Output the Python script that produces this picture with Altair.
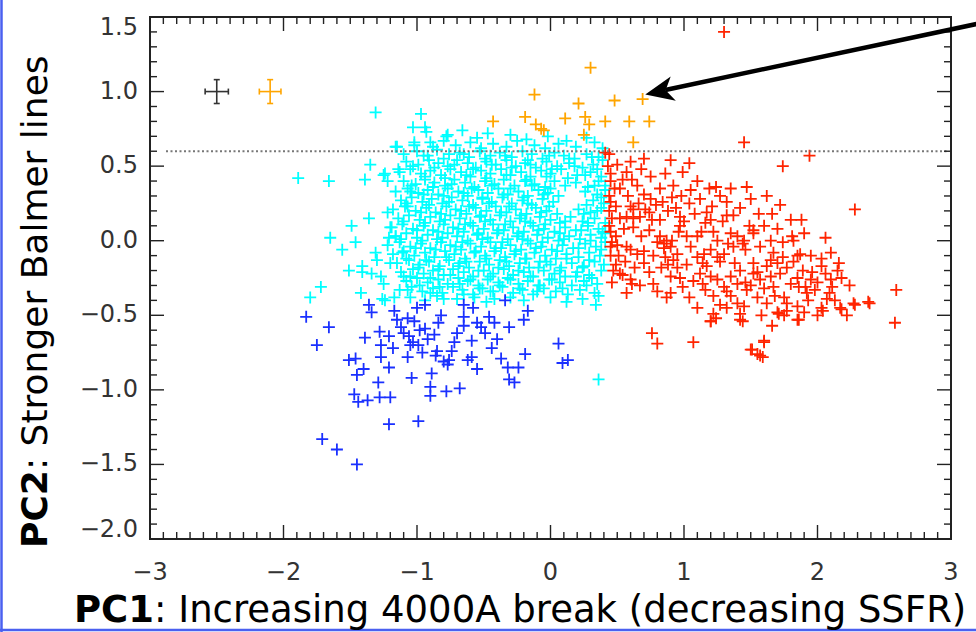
import altair as alt
import pandas as pd

# ---------------- data ----------------
cyan_outer = [
    (-1.89, 0.42), (-1.66, 0.40), (-1.31, 0.86), (-1.16, 0.63), (-1.35, 0.51), (-1.39, 0.41),
    (-1.25, 0.44), (-1.22, 0.40), (-1.22, 0.19), (-1.36, 0.15), (-1.49, 0.10), (-1.65, 0.02),
    (-1.46, -0.01), (-1.56, -0.06), (-1.51, -0.20), (-1.41, -0.17), (-1.31, -0.08), (-1.30, -0.13),
    (-1.72, -0.31), (-1.80, -0.38), (-1.42, -0.35), (-1.34, -0.22), (-1.27, -0.24), (-0.97, 0.85),
    (-1.03, 0.76), (-0.94, 0.76), (-0.90, 0.66), (-1.02, 0.64), (-1.15, 0.63), (-0.77, 0.71),
    (-1.14, 0.48), (-1.24, 0.45), (-1.21, 0.02), (-1.41, -0.21), (-1.25, -0.29), (-1.24, -0.40),
    (-1.17, -0.38), (-1.19, 0.09), (-1.16, 0.03), (-1.20, -0.15), (-1.11, -0.08), (-1.10, -0.24),
    (-1.07, -0.33), (-1.05, 0.33), (-1.07, 0.23), (0.34, -0.43), (0.36, -0.93), (-1.26, -0.39),
    (-0.90, -0.35), (-0.80, -0.39), (-0.65, -0.36), (-0.45, -0.34), (-0.42, -0.39), (-0.10, -0.34),
]
cyan_core_top = [
    (-0.93, 0.73), (-0.78, 0.70), (-0.66, 0.74), (-0.55, 0.69), (-0.47, 0.72), (-0.30, 0.71), (-0.18, 0.68),
    (-0.02, 0.70), (0.12, 0.67), (0.27, 0.69),
    (-1.02, 0.66), (-0.88, 0.63), (-0.80, 0.67), (-0.71, 0.64), (-0.60, 0.66), (-0.52, 0.62), (-0.43, 0.65),
    (-0.33, 0.63), (-0.25, 0.67), (-0.12, 0.64), (-0.04, 0.62), (0.06, 0.65), (0.19, 0.63), (0.33, 0.66), (0.39, 0.62),
    (-1.10, 0.58), (-1.00, 0.60), (-0.92, 0.57), (-0.85, 0.61), (-0.76, 0.58), (-0.68, 0.59), (-0.61, 0.56),
    (-0.53, 0.60), (-0.45, 0.57), (-0.38, 0.59), (-0.29, 0.56), (-0.21, 0.60), (-0.14, 0.58), (-0.06, 0.55),
    (0.03, 0.59), (0.10, 0.57), (0.18, 0.55), (0.27, 0.58), (0.36, 0.56),
    (-1.08, 0.53), (-0.99, 0.51), (-0.91, 0.54), (-0.84, 0.52), (-0.77, 0.50), (-0.70, 0.54), (-0.62, 0.52),
    (-0.56, 0.49), (-0.48, 0.53), (-0.41, 0.51), (-0.33, 0.54), (-0.26, 0.50), (-0.19, 0.52), (-0.11, 0.49),
    (-0.03, 0.53), (0.05, 0.50), (0.14, 0.52), (0.24, 0.49), (0.32, 0.51), (0.39, 0.54),
    (-1.13, 0.46), (-1.05, 0.48), (-0.97, 0.45), (-0.90, 0.47), (-0.82, 0.44), (-0.75, 0.48), (-0.67, 0.46),
    (-0.60, 0.43), (-0.52, 0.47), (-0.45, 0.45), (-0.37, 0.48), (-0.30, 0.44), (-0.22, 0.46), (-0.15, 0.43),
    (-0.07, 0.47), (0.00, 0.45), (0.08, 0.48), (0.20, 0.44), (0.30, 0.46), (0.38, 0.43),
    (-1.10, 0.40), (-1.01, 0.38), (-0.94, 0.41), (-0.87, 0.39), (-0.79, 0.37), (-0.72, 0.41), (-0.64, 0.39),
    (-0.57, 0.36), (-0.49, 0.40), (-0.42, 0.38), (-0.35, 0.41), (-0.27, 0.37), (-0.19, 0.40), (-0.12, 0.38),
    (-0.04, 0.36), (0.03, 0.40), (0.11, 0.37), (0.19, 0.39), (0.28, 0.36), (0.36, 0.40), (0.41, 0.37),
    (-1.16, 0.33), (-1.07, 0.35), (-0.99, 0.32), (-0.92, 0.34), (-0.84, 0.31), (-0.77, 0.35), (-0.69, 0.33),
    (-0.62, 0.30), (-0.54, 0.34), (-0.47, 0.32), (-0.39, 0.35), (-0.32, 0.31), (-0.24, 0.33), (-0.17, 0.30),
    (-0.09, 0.34), (-0.02, 0.32), (0.06, 0.30), (0.26, 0.33), (0.35, 0.31), (0.41, 0.34),
    (-1.12, 0.27), (-1.04, 0.29), (-0.96, 0.26), (-0.89, 0.28), (-0.81, 0.25), (-0.74, 0.29), (-0.66, 0.27),
    (-0.58, 0.24), (-0.51, 0.28), (-0.44, 0.26), (-0.36, 0.29), (-0.29, 0.25), (-0.21, 0.27), (-0.14, 0.24),
    (-0.06, 0.28), (0.02, 0.26), (0.32, 0.27), (0.40, 0.25),
    (-1.18, 0.21), (-1.09, 0.23), (-1.01, 0.20), (-0.93, 0.22), (-0.86, 0.19), (-0.78, 0.23), (-0.71, 0.21),
    (-0.63, 0.18), (-0.56, 0.22), (-0.48, 0.20), (-0.41, 0.23), (-0.33, 0.19), (-0.26, 0.21), (-0.18, 0.18),
    (-0.11, 0.22), (-0.03, 0.20), (0.05, 0.18), (0.21, 0.21), (0.30, 0.19), (0.38, 0.22),
]
cyan_core_bottom = [
    (-1.14, 0.15), (-1.06, 0.17), (-0.98, 0.14), (-0.90, 0.16), (-0.83, 0.13), (-0.75, 0.17), (-0.68, 0.15),
    (-0.60, 0.12), (-0.53, 0.16), (-0.45, 0.14), (-0.38, 0.17), (-0.30, 0.13), (-0.23, 0.15), (-0.15, 0.12),
    (-0.08, 0.16), (0.00, 0.14), (0.07, 0.12), (0.15, 0.16), (0.24, 0.13), (0.33, 0.15), (0.41, 0.12),
    (-1.20, 0.09), (-1.11, 0.11), (-1.03, 0.08), (-0.95, 0.10), (-0.88, 0.07), (-0.80, 0.11), (-0.73, 0.09),
    (-0.65, 0.06), (-0.58, 0.10), (-0.50, 0.08), (-0.43, 0.11), (-0.35, 0.07), (-0.28, 0.09), (-0.20, 0.06),
    (-0.13, 0.10), (-0.05, 0.08), (0.03, 0.06), (0.11, 0.09), (0.19, 0.07), (0.28, 0.10), (0.36, 0.08), (0.41, 0.05),
    (-1.16, 0.03), (-1.08, 0.05), (-1.00, 0.02), (-0.92, 0.04), (-0.85, 0.01), (-0.77, 0.05), (-0.70, 0.03),
    (-0.62, 0.00), (-0.55, 0.04), (-0.47, 0.02), (-0.40, 0.05), (-0.32, 0.01), (-0.25, 0.03), (-0.17, 0.00),
    (-0.10, 0.04), (-0.02, 0.02), (0.06, 0.00), (0.14, 0.03), (0.22, 0.01), (0.30, 0.04), (0.38, 0.02),
    (-1.22, -0.03), (-1.13, -0.01), (-1.05, -0.04), (-0.97, -0.02), (-0.90, -0.05), (-0.82, -0.01), (-0.75, -0.03),
    (-0.67, -0.06), (-0.60, -0.02), (-0.52, -0.04), (-0.45, -0.01), (-0.37, -0.05), (-0.30, -0.03), (-0.22, -0.06),
    (-0.15, -0.02), (-0.07, -0.04), (0.01, -0.06), (0.09, -0.03), (0.17, -0.05), (0.26, -0.02), (0.34, -0.04), (0.41, -0.01),
    (-1.18, -0.09), (-1.10, -0.07), (-1.02, -0.10), (-0.94, -0.08), (-0.87, -0.11), (-0.79, -0.07), (-0.72, -0.09),
    (-0.64, -0.12), (-0.57, -0.08), (-0.49, -0.10), (-0.42, -0.07), (-0.34, -0.11), (-0.27, -0.09), (-0.19, -0.12),
    (-0.12, -0.08), (-0.04, -0.10), (0.04, -0.12), (0.12, -0.09), (0.21, -0.11), (0.29, -0.08), (0.37, -0.10),
    (-1.15, -0.15), (-1.06, -0.13), (-0.98, -0.16), (-0.91, -0.14), (-0.83, -0.17), (-0.76, -0.13), (-0.68, -0.15),
    (-0.61, -0.18), (-0.53, -0.14), (-0.46, -0.16), (-0.38, -0.13), (-0.31, -0.17), (-0.23, -0.15), (-0.16, -0.18),
    (-0.08, -0.14), (0.00, -0.16), (0.08, -0.18), (0.16, -0.15), (0.25, -0.17), (0.33, -0.14), (0.40, -0.16),
    (-1.12, -0.21), (-1.03, -0.19), (-0.95, -0.22), (-0.88, -0.20), (-0.80, -0.23), (-0.73, -0.19), (-0.65, -0.21),
    (-0.58, -0.24), (-0.50, -0.20), (-0.43, -0.22), (-0.35, -0.19), (-0.28, -0.23), (-0.20, -0.21), (-0.13, -0.24),
    (-0.05, -0.20), (0.03, -0.22), (0.11, -0.24), (0.20, -0.21), (0.29, -0.23), (0.38, -0.20),
    (-1.08, -0.27), (-1.00, -0.25), (-0.92, -0.28), (-0.84, -0.26), (-0.77, -0.29), (-0.69, -0.25), (-0.62, -0.27),
    (-0.54, -0.30), (-0.47, -0.26), (-0.39, -0.28), (-0.32, -0.25), (-0.24, -0.29), (-0.17, -0.27), (-0.09, -0.30),
    (-0.01, -0.26), (0.07, -0.28), (0.16, -0.30), (0.25, -0.27), (0.35, -0.29),
    (-1.13, -0.33), (-1.04, -0.31), (-0.96, -0.34), (-0.88, -0.32), (-0.81, -0.35), (-0.73, -0.31), (-0.66, -0.33),
    (-0.58, -0.36), (-0.51, -0.32), (-0.43, -0.34), (-0.36, -0.31), (-0.28, -0.35), (-0.21, -0.33), (-0.13, -0.36),
    (-0.05, -0.32), (0.04, -0.34), (0.13, -0.36), (0.22, -0.33), (0.33, -0.35),
    (-1.05, -0.38), (-0.94, -0.40), (-0.85, -0.37), (-0.70, -0.39), (-0.57, -0.38), (-0.48, -0.41),
    (-0.30, -0.38), (-0.20, -0.40), (0.00, -0.38), (0.12, -0.41), (0.24, -0.39), (0.36, -0.37),
]
cyan_core_fill = [
    (-0.95, 0.57), (-0.80, 0.55), (-0.65, 0.58), (-0.49, 0.55), (-0.34, 0.57), (-0.17, 0.54), (-0.01, 0.57),
    (0.14, 0.55), (0.31, 0.56),
    (-1.03, 0.50), (-0.87, 0.49), (-0.72, 0.51), (-0.58, 0.48), (-0.44, 0.51), (-0.29, 0.49), (-0.15, 0.51),
    (0.01, 0.48), (0.18, 0.50), (0.35, 0.48),
    (-0.94, 0.43), (-0.79, 0.42), (-0.63, 0.44), (-0.48, 0.42), (-0.33, 0.44), (-0.18, 0.41), (-0.03, 0.43),
    (0.13, 0.42), (0.26, 0.44),
    (-1.04, 0.37), (-0.88, 0.36), (-0.74, 0.38), (-0.59, 0.35), (-0.44, 0.37), (-0.30, 0.35), (-0.14, 0.37),
    (0.00, 0.35), (0.33, 0.37),
    (-0.95, 0.31), (-0.80, 0.30), (-0.65, 0.32), (-0.51, 0.29), (-0.35, 0.31), (-0.20, 0.29), (-0.05, 0.31),
    (0.38, 0.29),
    (-1.08, 0.25), (-0.91, 0.24), (-0.76, 0.26), (-0.61, 0.23), (-0.46, 0.25), (-0.31, 0.23), (-0.17, 0.25),
    (-0.01, 0.23), (0.27, 0.24),
    (-0.97, 0.19), (-0.82, 0.18), (-0.67, 0.20), (-0.52, 0.17), (-0.37, 0.19), (-0.22, 0.17), (-0.07, 0.19),
    (0.25, 0.18), (0.35, 0.20),
    (-1.10, 0.13), (-0.94, 0.12), (-0.79, 0.14), (-0.64, 0.11), (-0.49, 0.13), (-0.34, 0.11), (-0.19, 0.13),
    (-0.04, 0.11), (0.11, 0.13), (0.28, 0.12),
    (-1.00, 0.07), (-0.84, 0.06), (-0.69, 0.08), (-0.54, 0.05), (-0.39, 0.07), (-0.24, 0.05), (-0.09, 0.07),
    (0.07, 0.05), (0.23, 0.07), (0.39, 0.06),
    (-1.12, 0.01), (-0.96, 0.00), (-0.81, 0.02), (-0.66, -0.01), (-0.51, 0.01), (-0.36, -0.01), (-0.21, 0.01),
    (-0.06, -0.01), (0.10, 0.01), (0.30, 0.00),
    (-1.01, -0.05), (-0.86, -0.06), (-0.71, -0.04), (-0.56, -0.07), (-0.41, -0.05), (-0.26, -0.07), (-0.11, -0.05),
    (0.05, -0.07), (0.21, -0.05), (0.38, -0.06),
    (-1.08, -0.12), (-0.93, -0.13), (-0.78, -0.11), (-0.63, -0.14), (-0.48, -0.12), (-0.33, -0.14), (-0.18, -0.12),
    (-0.03, -0.14), (0.12, -0.12), (0.29, -0.13),
    (-0.99, -0.18), (-0.84, -0.19), (-0.69, -0.17), (-0.54, -0.20), (-0.39, -0.18), (-0.24, -0.20), (-0.09, -0.18),
    (0.07, -0.20), (0.24, -0.18),
    (-1.05, -0.24), (-0.90, -0.25), (-0.75, -0.23), (-0.60, -0.26), (-0.45, -0.24), (-0.30, -0.26), (-0.15, -0.24),
    (0.01, -0.26), (0.19, -0.24), (0.31, -0.25),
    (-0.98, -0.30), (-0.83, -0.31), (-0.68, -0.29), (-0.53, -0.32), (-0.38, -0.30), (-0.23, -0.32), (-0.08, -0.30),
    (0.09, -0.32), (0.27, -0.30),
]
blue_pts = [
    (-1.83, -0.51), (-1.66, -0.58), (-1.75, -0.70), (-1.36, -0.43), (-1.34, -0.48), (-1.39, -0.65),
    (-1.28, -0.61), (-1.27, -0.70), (-1.21, -0.64), (-1.51, -0.80), (-1.46, -0.79), (-1.40, -0.86),
    (-1.45, -0.90), (-1.27, -0.78), (-1.21, -0.85), (-1.29, -0.95), (-1.47, -1.03), (-1.44, -1.08),
    (-1.37, -1.07), (-1.28, -1.05), (-1.20, -1.05), (-1.21, -1.23), (-0.99, -1.21), (-1.71, -1.33),
    (-1.60, -1.40), (-1.45, -1.50), (-1.17, -0.47), (-1.15, -0.53), (-1.12, -0.58), (-1.07, -0.52),
    (-1.02, -0.54), (-1.00, -0.45), (-0.94, -0.43), (-1.06, -0.64), (-1.03, -0.68), (-1.07, -0.78),
    (-0.99, -0.70), (-0.94, -0.59), (-0.87, -0.63), (-0.84, -0.55), (-0.85, -0.74), (-0.80, -0.81),
    (-0.77, -0.83), (-0.72, -0.68), (-0.74, -0.74), (-0.89, -0.89), (-1.04, -0.92), (-0.90, -0.98),
    (-0.90, -1.04), (-0.78, -1.01), (-0.68, -0.99), (-0.65, -0.43), (-0.65, -0.51), (-0.65, -0.57),
    (-0.58, -0.45), (-0.59, -0.67), (-0.59, -0.78), (-0.55, -0.86), (-0.52, -0.58), (-0.46, -0.51),
    (-0.42, -0.55), (-0.44, -0.72), (-0.37, -0.79), (-0.34, -0.40), (-0.31, -0.58), (-0.32, -0.85),
    (-0.31, -0.93), (-0.27, -0.95), (-0.24, -0.85), (-0.20, -0.53), (-0.17, -0.47), (-0.19, -0.76),
    (0.06, -0.69), (0.13, -0.80), (0.09, -0.82), (-1.10, -0.62), (-1.05, -0.70), (-0.96, -0.75),
    (-0.92, -0.66), (-0.82, -0.50), (-0.76, -0.80), (-0.70, -0.62), (-0.62, -0.80), (-0.49, -0.62),
    (-0.40, -0.66), (-0.55, -0.55), (-1.18, -0.72), (-0.98, -0.60), (-0.86, -0.77),
]
red_pts = [
    (1.30, 1.40), (1.45, 0.66), (1.94, 0.57), (1.74, 0.50), (2.28, 0.21), (2.06, 0.02), (2.59, -0.33),
    (2.58, -0.55), (2.39, -0.42), (0.76, -0.62), (0.80, -0.69), (1.07, -0.68), (1.60, -0.68), (1.51, -0.73),
    (1.59, -0.78), (1.20, -0.54), (1.24, -0.52), (1.42, -0.53), (1.45, -0.44), (1.66, -0.57), (1.85, -0.53),
    (2.00, -0.50), (2.04, -0.47), (2.22, -0.50), (2.18, -0.46), (2.28, -0.43), (1.71, -0.49), (1.77, -0.47),
    (0.90, 0.54), (1.04, 0.52), (0.99, 0.46), (0.50, 0.51), (0.57, 0.46), (0.45, 0.45), (0.54, 0.41),
    (0.61, 0.41), (0.65, 0.37), (0.75, 0.43), (0.82, 0.35), (0.92, 0.37), (1.05, 0.34), (1.19, 0.35),
    (1.24, 0.36), (1.35, 0.35), (1.47, 0.36), (1.50, 0.28), (0.70, 0.31), (0.75, 0.28), (0.84, 0.26),
    (0.45, 0.26), (0.49, 0.23), (0.60, 0.23), (0.62, 0.21), (0.94, 0.22), (1.04, 0.25), (1.12, 0.28),
    (1.21, 0.23), (1.17, 0.19), (1.32, 0.26), (1.32, 0.17), (1.37, 0.17), (0.74, 0.19), (0.52, 0.15),
    (0.57, 0.16), (0.62, 0.15), (0.67, 0.16), (0.76, 0.14), (0.82, 0.14), (0.97, 0.16), (1.00, 0.13),
    (0.97, 0.10), (1.16, 0.12), (1.20, 0.14), (1.29, 0.13), (1.49, 0.10), (1.52, 0.07), (0.45, 0.06),
    (0.49, 0.03), (0.82, 0.03), (0.87, 0.00), (0.85, -0.02), (0.91, 0.00), (1.02, 0.03), (1.10, 0.03),
    (1.35, 0.05), (1.40, 0.03), (1.45, 0.00), (0.45, -0.04), (0.50, -0.03), (0.57, -0.04), (0.60, -0.06),
    (0.65, -0.09), (0.70, -0.07), (0.77, -0.10), (0.80, -0.01), (0.85, -0.05), (0.90, -0.04), (0.86, -0.11),
    (0.95, -0.09), (0.92, -0.13), (1.05, -0.04), (1.10, -0.11), (1.15, -0.09), (1.14, -0.15), (1.17, -0.17),
    (1.25, -0.11), (1.30, -0.09), (1.27, -0.14), (1.37, -0.04), (1.44, -0.02), (1.46, -0.06), (1.52, -0.15),
    (1.55, -0.21), (0.49, -0.16), (0.54, -0.23), (0.60, -0.26), (0.61, -0.29), (0.77, -0.29), (0.90, -0.24),
    (0.97, -0.25), (0.99, -0.31), (1.12, -0.22), (1.20, -0.24), (1.25, -0.26), (1.30, -0.31), (1.35, -0.24),
    (1.40, -0.29), (1.46, -0.28), (1.47, -0.33), (0.57, -0.35), (0.90, -0.35), (0.87, -0.38), (1.04, -0.38),
    (1.16, -0.33), (1.32, -0.34), (1.27, -0.43), (1.22, -0.49), (1.20, -0.54), (1.40, -0.42), (1.42, -0.49),
    (1.44, -0.54), (1.50, -0.73), (1.55, -0.76), (1.72, 0.24), (1.66, 0.18), (1.60, 0.10), (1.80, 0.14),
    (1.88, 0.14), (1.52, 0.05), (1.81, 0.03), (1.82, 0.00), (1.65, 0.00), (1.57, -0.04), (1.74, -0.01),
    (1.67, -0.08), (1.65, -0.13), (1.70, -0.15), (1.62, -0.17), (1.74, -0.11), (1.85, -0.10), (1.82, -0.14),
    (1.87, -0.09), (2.03, -0.12), (2.03, -0.17), (2.16, -0.15), (2.15, -0.20), (2.18, -0.25), (2.10, -0.26),
    (2.11, -0.31), (1.96, -0.21), (1.95, -0.26), (1.91, -0.31), (1.92, -0.35), (1.85, -0.25), (1.80, -0.29),
    (1.86, -0.31), (1.52, -0.22), (1.57, -0.26), (1.65, -0.24), (1.67, -0.31), (1.60, -0.32), (1.75, -0.38),
    (1.77, -0.42), (1.70, -0.48), (1.75, -0.50), (1.85, -0.44), (1.86, -0.53), (1.90, -0.48), (2.03, -0.45),
    (2.07, -0.39), (2.17, -0.45), (2.27, -0.42), (2.38, -0.41), (1.60, -0.67),
    (1.57, -0.77), (0.44, 0.58), (0.41, 0.59), (0.45, 0.40), (0.44, 0.30), (0.46, 0.15), (0.44, 0.10),
    (0.45, -0.10), (0.47, -0.20), (0.44, 0.20), (0.46, -0.28), (0.48, 0.35), (0.43, 0.50), (0.46, -0.01),
]
red_pts_extra = [
    (0.52, 0.35), (0.58, 0.30), (0.66, 0.25), (0.71, 0.21), (0.79, 0.24), (0.88, 0.20), (0.91, 0.29),
    (0.98, 0.30), (1.08, 0.18), (1.13, 0.06), (1.22, 0.06), (1.25, 0.00), (1.33, -0.02), (1.20, -0.06),
    (0.96, 0.06), (0.74, 0.07), (0.68, 0.03), (0.62, 0.09), (0.55, 0.08), (0.51, -0.10), (0.56, -0.14),
    (0.63, -0.18), (0.70, -0.15), (0.74, -0.21), (0.83, -0.18), (0.88, -0.16), (0.95, -0.18), (1.02, -0.16),
    (1.07, -0.27), (1.14, -0.29), (1.22, -0.37), (1.35, -0.37), (1.38, -0.15), (1.42, -0.20), (1.50, -0.30),
    (1.55, -0.38), (1.62, -0.42), (1.68, -0.37), (1.72, -0.22), (1.77, -0.18), (1.89, -0.20), (1.93, -0.40),
    (1.98, -0.33), (2.00, -0.28), (2.06, -0.22), (2.09, -0.35), (2.13, -0.40), (2.24, -0.30), (1.56, 0.18),
    (1.62, 0.30), (1.42, 0.22), (1.27, 0.30), (1.10, 0.40), (0.86, 0.45), (0.68, 0.48), (0.60, 0.53),
    (0.70, 0.55), (0.52, -0.22), (0.67, -0.30), (0.80, -0.34), (1.10, -0.45), (1.32, -0.45), (1.58, -0.50),
    (1.95, -0.10), (2.10, -0.08), (1.90, 0.05), (1.70, 0.08),
]
orange_pts = [
    (0.30, 1.16), (-0.12, 0.98), (0.69, 0.95), (0.48, 0.94), (0.21, 0.92), (-0.43, 0.80), (-0.19, 0.83),
    (-0.11, 0.78), (-0.07, 0.75), (-0.05, 0.74), (0.11, 0.82), (0.26, 0.83), (0.29, 0.78), (0.25, 0.71),
    (0.41, 0.80), (0.59, 0.80), (0.74, 0.80), (0.62, 0.66),
]
group_names = ["cyan", "blue", "red", "orange"]
group_colors = ["#00ffff", "#1a30ff", "#ff2400", "#ffa500"]

# error-bar examples (top-left)
err_x = [-2.50, -2.10]
err_y = [1.0, 1.0]
err_dx = [0.087, 0.081]
err_dy = [0.08, 0.08]
err_col = ["#333333", "#ffa500"]

cut_y = [0.6]                  # dotted divider
arrow_x = [3.19, 0.86]         # tail (outside frame) -> base of head
arrow_y = [1.453, 1.011]
arrow_tip_x = [0.71]
arrow_tip_y = [0.98]

x_major = [-3, -2, -1, 0, 1, 2, 3]
x_labels = ["\u22123", "\u22122", "\u22121", "0", "1", "2", "3"]
y_major = [-2.0, -1.5, -1.0, -0.5, 0.0, 0.5, 1.0, 1.5]
y_labels = ["\u22122.0", "\u22121.5", "\u22121.0", "\u22120.5", "0.0", "0.5", "1.0", "1.5"]
x_minor = [round(-3 + 0.1 * i, 1) for i in range(61) if i % 10]
y_minor = [round(-2 + 0.1 * i, 1) for i in range(36) if i % 5]

# ---------------- chart ----------------
W, H = 801, 522
LEFT, TOP = 150, 17
PLUS = "M-1,0H1M0,-1V1"
HEAD = "M0,0L-2.2,-0.95L-1.6,0L-2.2,0.95Z"
TICK_COL = "#222222"
FONT = "DejaVu Sans"

rows = []
for name, pts in [("cyan", cyan_outer + cyan_core_top + cyan_core_bottom + cyan_core_fill),
                  ("blue", blue_pts), ("red", red_pts + red_pts_extra), ("orange", orange_pts)]:
    for (px, py) in pts:
        rows.append({"x": px, "y": py, "grp": name})
pts_df = pd.DataFrame(rows)

xs = alt.Scale(domain=[-3, 3], nice=False, zero=False)
ys = alt.Scale(domain=[-2.0, 1.5], nice=False, zero=False)

points = alt.Chart(pts_df).mark_point(
    shape=PLUS, filled=False, size=144, strokeWidth=1.8, opacity=1
).encode(
    x=alt.X("x:Q", scale=xs, axis=None),
    y=alt.Y("y:Q", scale=ys, axis=None),
    color=alt.Color("grp:N", scale=alt.Scale(domain=group_names, range=group_colors), legend=None),
)

# tick labels as text
xl_df = pd.DataFrame({"v": x_major, "t": x_labels})
x_tick_labels = alt.Chart(xl_df).mark_text(
    font=FONT, fontSize=24, color="#333333", align="center", baseline="middle"
).encode(x=alt.X("v:Q", scale=xs, axis=None), y=alt.value(H + 34), text="t:N")

yl_df = pd.DataFrame({"v": y_major, "t": y_labels})
def ylab(sel, dy):
    return alt.Chart(yl_df.iloc[sel]).mark_text(
        font=FONT, fontSize=24, color="#333333", align="right", baseline="middle", dy=dy
    ).encode(y=alt.Y("v:Q", scale=ys, axis=None), x=alt.value(-12), text="t:N")
y_tick_labels = [ylab(slice(1, 7), 0), ylab(slice(7, 8), 11), ylab(slice(0, 1), -9)]

def xticks(vals, length):
    d = pd.DataFrame({"v": vals})
    bot = alt.Chart(d).mark_rule(color=TICK_COL, strokeWidth=1.4).encode(
        x=alt.X("v:Q", scale=xs, axis=None), y=alt.value(H), y2=alt.value(H - length))
    top = alt.Chart(d).mark_rule(color=TICK_COL, strokeWidth=1.4).encode(
        x=alt.X("v:Q", scale=xs, axis=None), y=alt.value(0), y2=alt.value(length))
    return [bot, top]

def yticks(vals, length):
    d = pd.DataFrame({"v": vals})
    lft = alt.Chart(d).mark_rule(color=TICK_COL, strokeWidth=1.4).encode(
        y=alt.Y("v:Q", scale=ys, axis=None), x=alt.value(0), x2=alt.value(length))
    rgt = alt.Chart(d).mark_rule(color=TICK_COL, strokeWidth=1.4).encode(
        y=alt.Y("v:Q", scale=ys, axis=None), x=alt.value(W), x2=alt.value(W - length))
    return [lft, rgt]

tick_layers = xticks(x_major, 14) + xticks(x_minor, 7) + yticks(y_major, 14) + yticks(y_minor, 7)

cut = alt.Chart(pd.DataFrame({"y": cut_y})).mark_rule(
    color="#777777", strokeWidth=2, strokeDash=[2, 2.5]
).encode(y=alt.Y("y:Q", scale=ys, axis=None), x=alt.value(16), x2=alt.value(W - 4))

err_df = pd.DataFrame({
    "x": err_x, "y": err_y,
    "xlo": [a - b for a, b in zip(err_x, err_dx)], "xhi": [a + b for a, b in zip(err_x, err_dx)],
    "ylo": [a - b for a, b in zip(err_y, err_dy)], "yhi": [a + b for a, b in zip(err_y, err_dy)],
    "c": err_col,
})
eb_h = alt.Chart(err_df).mark_rule(strokeWidth=1.6).encode(
    x=alt.X("xlo:Q", scale=xs, axis=None), x2="xhi:Q",
    y=alt.Y("y:Q", scale=ys, axis=None), color=alt.Color("c:N", scale=None))
eb_v = alt.Chart(err_df).mark_rule(strokeWidth=1.6).encode(
    x=alt.X("x:Q", scale=xs, axis=None),
    y=alt.Y("ylo:Q", scale=ys, axis=None), y2="yhi:Q", color=alt.Color("c:N", scale=None))
cap_layers = []
for fx, fy, shp in [("xlo", "y", "M0,-1V1"), ("xhi", "y", "M0,-1V1"),
                    ("x", "ylo", "M-1,0H1"), ("x", "yhi", "M-1,0H1")]:
    cap_layers.append(alt.Chart(err_df).mark_point(
        shape=shp, filled=False, size=36, strokeWidth=1.6, opacity=1).encode(
        x=alt.X(f"{fx}:Q", scale=xs, axis=None), y=alt.Y(f"{fy}:Q", scale=ys, axis=None),
        color=alt.Color("c:N", scale=None)))

arrow_line = alt.Chart(pd.DataFrame({"x": [arrow_x[0]], "x2": [arrow_x[1]],
                                     "y": [arrow_y[0]], "y2": [arrow_y[1]]})).mark_rule(
    color="black", strokeWidth=4.5).encode(
    x=alt.X("x:Q", scale=xs, axis=None), x2="x2:Q",
    y=alt.Y("y:Q", scale=ys, axis=None), y2="y2:Q")
arrow_head = alt.Chart(pd.DataFrame({"x": arrow_tip_x, "y": arrow_tip_y})).mark_point(
    shape=HEAD, filled=True, size=676, angle=168, color="black", opacity=1, strokeWidth=0
).encode(x=alt.X("x:Q", scale=xs, axis=None), y=alt.Y("y:Q", scale=ys, axis=None))

one = pd.DataFrame({"a": [0]})
frame_left = alt.Chart(one).mark_rule(color="#4a60f0", strokeWidth=2.5).encode(
    x=alt.value(1.5 - LEFT), y=alt.value(-TOP), y2=alt.value(632 - TOP))
frame_bottom = alt.Chart(one).mark_rule(color="#4a60f0", strokeWidth=2.5).encode(
    y=alt.value(630 - TOP), x=alt.value(-LEFT), x2=alt.value(976 - LEFT))

def label(txt, x, y, bold=False, angle=0, size=36):
    kw = dict(align="left", baseline="alphabetic", font=FONT, fontSize=size, color="black",
              fontWeight="bold" if bold else "normal")
    if angle:
        kw["angle"] = angle
    return alt.Chart(pd.DataFrame({"t": [txt]})).mark_text(**kw).encode(
        text="t:N", x=alt.value(x), y=alt.value(y))

x_title = [label("PC1", 74 - LEFT, 622 - TOP, bold=True, size=37),
           label(": Increasing 4000A break (decreasing SSFR)", 154 - LEFT, 622 - TOP, size=37)]
y_title = [label("PC2", 47 - LEFT, 548 - TOP, bold=True, angle=270),
           label(": Stronger Balmer lines", 47 - LEFT, 470 - TOP, angle=270)]

chart = alt.layer(
    points, cut, eb_h, eb_v, *cap_layers, *tick_layers, arrow_line, arrow_head,
    x_tick_labels, *y_tick_labels,
    frame_left, frame_bottom, *x_title, *y_title
).properties(
    width=W, height=H, autosize="none",
    padding={"left": LEFT, "top": TOP, "right": 976 - LEFT - W, "bottom": 632 - TOP - H},
    background="white",
).configure_view(stroke="#222222", strokeWidth=2)

chart.save("out.html", embed_options={"renderer": "svg", "actions": False})
